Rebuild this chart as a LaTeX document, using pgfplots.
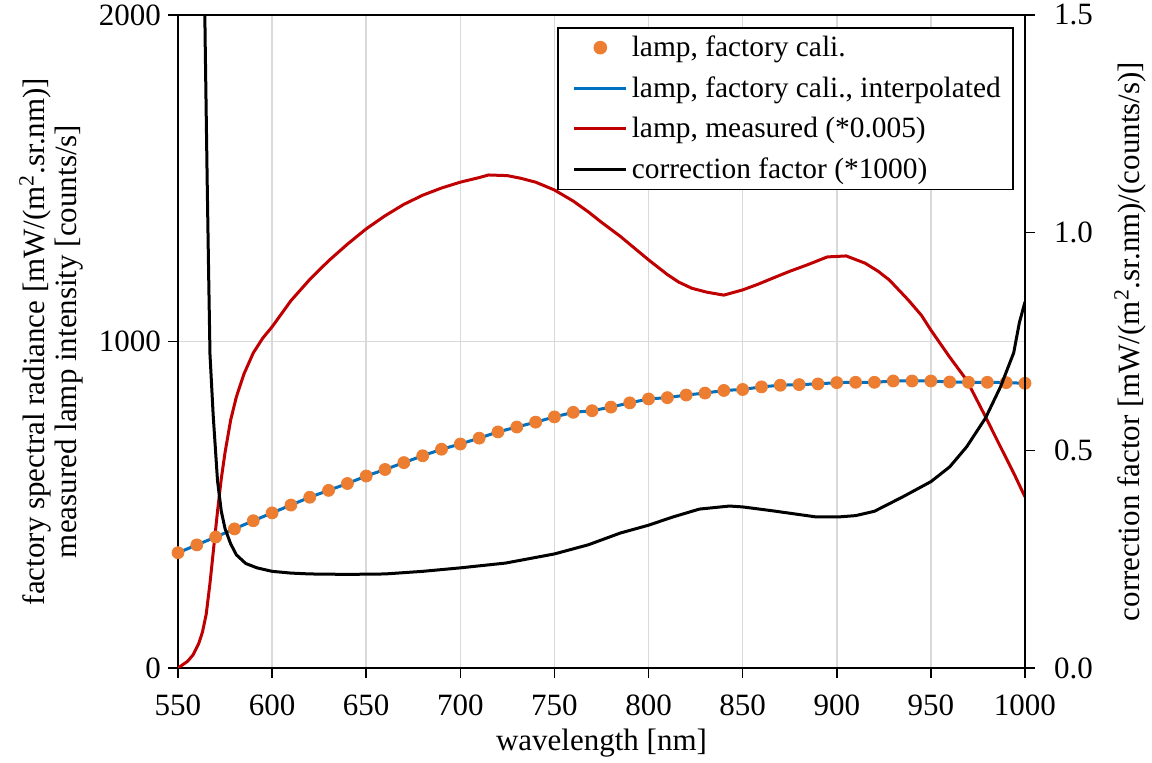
\documentclass[border=0pt]{standalone}
\usepackage{fontspec}
\setmainfont{Liberation Serif}
\usepackage{pgfplots}
\usepackage{pgfplotstable}
\pgfplotsset{compat=1.18}
\definecolor{corange}{RGB}{237,125,49}
\definecolor{cblue}{RGB}{0,112,192}
\definecolor{cred}{RGB}{192,0,0}
\definecolor{cgrid}{RGB}{217,217,217}

\pgfplotstableread{
x y
550 353
560 377
570 401
580 426
590 451
600 475
610 499
620 523
630 544
640 565
650 588
660 608
670 629
680 650
690 670
700 686
710 704
720 723
730 738
740 753
750 769
760 783
770 788
780 799
790 812
800 824
810 828
820 836
830 842
840 850
850 853
860 861
870 866
880 868
890 870
900 874
910 875
920 875
930 879
940 879
950 879
960 876
970 875
980 875
990 874
1000 872
}\factory

\pgfplotstableread{
x y
550 0
552 8
555 20
558 40
561 75
563 110
565 165
567 260
569 370
571 480
573 580
575 660
578 760
581 830
585 900
590 965
595 1010
600 1045
610 1125
620 1190
630 1247
640 1298
650 1345
660 1385
670 1420
680 1448
690 1470
700 1488
710 1502
715 1510
725 1508
732 1500
740 1488
750 1464
760 1430
768 1397
775 1365
785 1322
800 1250
810 1205
816 1182
823 1163
831 1151
840 1142
850 1158
858 1175
866 1194
875 1215
884 1234
895 1259
905 1262
915 1240
922 1215
928 1188
938 1127
945 1080
950 1035
960 952
969 882
978 781
987 677
994 597
1000 524
}\measured

\pgfplotstableread{
x y
563.6 1.75
564.4 1.45
565.5 1.12
566.3 0.90
567 0.72
568.7 0.58
571 0.43
573 0.36
575 0.32
578 0.285
581 0.26
586 0.24
592 0.23
600 0.222
610 0.218
620 0.216
640 0.215
660 0.216
680 0.222
700 0.230
724 0.241
750 0.262
768 0.283
785 0.310
800 0.328
813 0.347
827 0.365
843 0.372
850 0.370
866 0.361
889 0.347
901 0.347
910 0.350
920 0.360
935 0.393
950 0.428
960 0.462
969 0.508
979 0.574
987 0.646
994 0.724
997 0.793
1000 0.841
}\corr

\begin{document}
\begin{tikzpicture}
\path[use as bounding box] (-89pt,-47.5pt) rectangle (487pt,334pt);
\pgfplotsset{
  every axis/.append style={font=\fontsize{15.5}{17}\selectfont},
  /pgf/number format/assume math mode=true,
  legend image code/.code={\path (0pt,0pt); \draw[mark repeat=2,mark phase=2,#1] plot coordinates {(3.5pt,0pt) (16.5pt,0pt) (29.5pt,0pt)};},
}
\begin{axis}[
  scale only axis, width=423.5pt, height=326.5pt,
  xmin=550, xmax=1000, ymin=0, ymax=2000,
  xtick={550,600,...,1000}, ytick={0,1000,2000},
  xtick pos=bottom, ytick pos=left,
  xmajorgrids, ymajorgrids, grid style={cgrid, line width=0.8pt},
  axis line style={line width=1pt},
  tick style={black, line width=0.8pt},
  tick align=outside, major tick length=5pt,
  xticklabel style={yshift=-5pt},
  /pgf/number format/1000 sep={},
  xlabel={wavelength [nm]},
  xlabel style={at={(axis description cs:0.5,0)}, anchor=center, yshift=-37.5pt},
  ylabel={factory spectral radiance [mW/(m\textsuperscript{2}.sr.nm)]\\measured lamp intensity [counts/s]},
  ylabel style={align=center, font=\fontsize{15.5}{16}\selectfont,
    at={(axis description cs:-0.15,0.5)}, anchor=center},
]
\addplot[cblue, line width=1.5pt] table[x=x,y=y] {\factory};
\addplot[only marks, mark=*, mark size=3pt, corange] table[x=x,y=y] {\factory};
\addplot[cred, line width=1.5pt] table[x=x,y=y] {\measured};
\end{axis}
\begin{axis}[
  scale only axis, width=423.5pt, height=326.5pt,
  xmin=550, xmax=1000, ymin=0, ymax=1.5,
  axis x line=none, axis y line*=right,
  ytick={0,0.5,1,1.5},
  yticklabel style={xshift=6pt, /pgf/number format/.cd, fixed, fixed zerofill, precision=1},
  axis line style={line width=1pt},
  tick style={black, line width=0.8pt},
  tick align=outside, major tick length=5pt,
  ylabel={correction factor [mW/(m\textsuperscript{2}.sr.nm)/(counts/s)]},
  ylabel style={at={(axis description cs:1.124,0.5)}, anchor=center},
  legend style={at={(0.4475,0.9816)}, anchor=north west, draw=black, line width=0.8pt,
    fill=white, cells={anchor=west}, inner xsep=4pt, inner ysep=2pt, row sep=4.5pt,
    font=\fontsize{14.7}{17}\selectfont},
]
\addlegendimage{only marks, mark=*, mark size=3pt, corange}
\addlegendentry{lamp, factory cali.}
\addlegendimage{cblue, line width=1.5pt}
\addlegendentry{lamp, factory cali., interpolated}
\addlegendimage{cred, line width=1.5pt}
\addlegendentry{lamp, measured (*0.005)}
\addplot[black, line width=1.5pt] table[x=x,y=y] {\corr};
\addlegendentry{correction factor (*1000)}
\end{axis}
\end{tikzpicture}
\end{document}
